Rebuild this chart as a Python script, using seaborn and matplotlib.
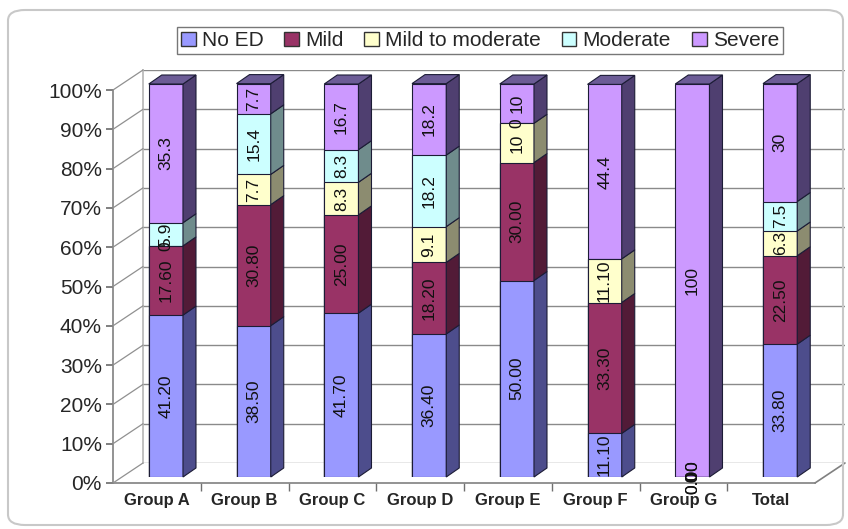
import matplotlib
matplotlib.use('Agg')
import matplotlib.pyplot as plt
import seaborn as sns
import numpy as np
from matplotlib.patches import Polygon, Patch, FancyBboxPatch, ConnectionPatch

sns.set_theme(style='white')
plt.rcParams['font.family'] = ['Liberation Sans', 'DejaVu Sans']

groups = ['Group A', 'Group B', 'Group C', 'Group D', 'Group E', 'Group F', 'Group G', 'Total']
series = ['No ED', 'Mild', 'Mild to moderate', 'Moderate', 'Severe']

no_ed = [41.2, 38.5, 41.7, 36.4, 50.0, 11.1, 0.0, 33.8]
mild = [17.6, 30.8, 25.0, 18.2, 30.0, 33.3, 0.0, 22.5]
mild_mod = [0.0, 7.7, 8.3, 9.1, 10.0, 11.1, 0.0, 6.3]
moderate = [5.9, 15.4, 8.3, 18.2, 0.0, 0.0, 0.0, 7.5]
severe = [35.3, 7.7, 16.7, 18.2, 10.0, 44.4, 100.0, 30.0]

# data label text as printed on the bars
lab_no_ed = ['41.20', '38.50', '41.70', '36.40', '50.00', '11.10', '0.00', '33.80']
lab_mild = ['17.60', '30.80', '25.00', '18.20', '30.00', '33.30', '0.00', '22.50']
lab_mild_mod = ['0', '7.7', '8.3', '9.1', '10', '11.10', '0', '6.3']
lab_moderate = ['5.9', '15.4', '8.3', '18.2', '0', '', '0', '7.5']
lab_severe = ['35.3', '7.7', '16.7', '18.2', '10', '44.4', '100', '30']

front_cols = ['#9999ff', '#993366', '#ffffcc', '#ccffff', '#cc99ff']
side_cols = ['#4d4d8c', '#521b37', '#8c8c70', '#6f8c8c', '#4f3f70']
top_col = '#6c5c96'
edge = '#1c1c36'

values = np.array([no_ed, mild, mild_mod, moderate, severe])
labels = [lab_no_ed, lab_mild, lab_mild_mod, lab_moderate, lab_severe]
tops = values.cumsum(axis=0)
bottoms = tops - values

W, H = 848, 529
fig = plt.figure(figsize=(W / 100, H / 100), dpi=100)
fig.patch.set_facecolor('white')


def frect(l, r, b, t):
    return [l / W, 1 - b / H, (r - l) / W, (b - t) / H]


# back wall with gridlines
ax_wall = fig.add_axes(frect(143, 845, 463, 70))
ax_wall.set_xlim(0, 1)
ax_wall.set_ylim(0, 100)
ax_wall.set_yticks(np.arange(0, 101, 10))
ax_wall.set_xticks([])
ax_wall.tick_params(left=False, labelleft=False)
ax_wall.grid(axis='y', color='#8a8a8a', linewidth=1)
ax_wall.set_facecolor('none')
for s in ['top', 'right', 'bottom']:
    ax_wall.spines[s].set_visible(False)
ax_wall.spines['left'].set_color('#b8b8b8')

# front axis (ticks and labels)
ax_front = fig.add_axes(frect(113, 815, 483, 90))
ax_front.set_facecolor('none')
ax_front.set_xlim(-0.5, 7.5)
ax_front.set_ylim(0, 100)
ax_front.set_yticks(np.arange(0, 101, 10))
ax_front.set_yticklabels([f'{v}%' for v in range(0, 101, 10)], fontsize=15)
ax_front.set_xticks(range(len(groups)))
ax_front.set_xticklabels(groups, fontsize=12, fontweight='bold')
ax_front.set_xticks(np.arange(0.5, 7, 1), minor=True)
ax_front.tick_params(axis='x', which='major', length=0, pad=7)
ax_front.tick_params(axis='x', which='minor', length=6, color='#707070', direction='out', bottom=True)
ax_front.tick_params(axis='y', length=5, color='#707070', direction='out', left=True, pad=3)
for s in ['top', 'right']:
    ax_front.spines[s].set_visible(False)
for s in ['left', 'bottom']:
    ax_front.spines[s].set_color('#808080')
    ax_front.spines[s].set_linewidth(1.2)

# diagonal depth lines from axis to wall
for v in range(0, 101, 10):
    con = ConnectionPatch(xyA=(0, v), coordsA=ax_front.get_yaxis_transform(),
                          xyB=(0, v), coordsB=ax_wall.get_yaxis_transform(),
                          color='#909090', linewidth=0.9)
    fig.add_artist(con)
fig.add_artist(ConnectionPatch(xyA=(1, 0), coordsA=ax_front.transAxes,
                               xyB=(1, 0), coordsB=ax_wall.transAxes,
                               color='#808080', linewidth=1.2))

# bars
ax = fig.add_axes(frect(122, 824, 477, 84))
ax.set_facecolor('none')
bw = 0.39
for i in reversed(range(len(series))):
    sns.barplot(x=groups, y=tops[i], color=front_cols[i], width=bw, saturation=1,
                edgecolor=edge, linewidth=0.8, ax=ax)
ax.set_xlim(-0.5, 7.5)
ax.set_ylim(0, 100)
ax.axis('off')

dx = 13 / (702 / 8)
dy = 9 / (393 / 100)
for j in range(len(groups)):
    xr = j + bw / 2
    for i in range(len(series)):
        y0, y1 = bottoms[i, j], tops[i, j]
        if y1 - y0 <= 0:
            continue
        ax.add_patch(Polygon([(xr, y0), (xr + dx, y0 + dy), (xr + dx, y1 + dy), (xr, y1)],
                             closed=True, facecolor=side_cols[i], edgecolor=edge,
                             linewidth=0.8, clip_on=False))
    t = tops[-1, j]
    ax.add_patch(Polygon([(j - bw / 2, t), (j - bw / 2 + dx, t + dy), (xr + dx, t + dy), (xr, t)],
                         closed=True, facecolor=top_col, edgecolor=edge,
                         linewidth=0.8, clip_on=False))
    for i in range(len(series)):
        txt = labels[i][j]
        if not txt:
            continue
        ax.text(j, bottoms[i, j] + values[i, j] / 2, txt, rotation=90, ha='center',
                va='center', fontsize=12.5, color='#111111', clip_on=False)

handles = [Patch(facecolor=c, edgecolor='#333333') for c in front_cols]
fig.legend(handles, series, loc='upper center', bbox_to_anchor=(480 / W, 1 - 27 / H),
           ncol=5, frameon=True, fancybox=False, edgecolor='#555555', fontsize=15,
           handlelength=0.7, handleheight=0.7, handletextpad=0.3, columnspacing=1.0,
           borderpad=0.2, borderaxespad=0)

fig.add_artist(FancyBboxPatch((8 / W, 4 / H), 835 / W, 515 / H,
                              boxstyle='round,pad=0,rounding_size=0.02',
                              transform=fig.transFigure, fill=False,
                              edgecolor='#c8c8c8', linewidth=1.5))

fig.savefig('out.png', dpi=100)
